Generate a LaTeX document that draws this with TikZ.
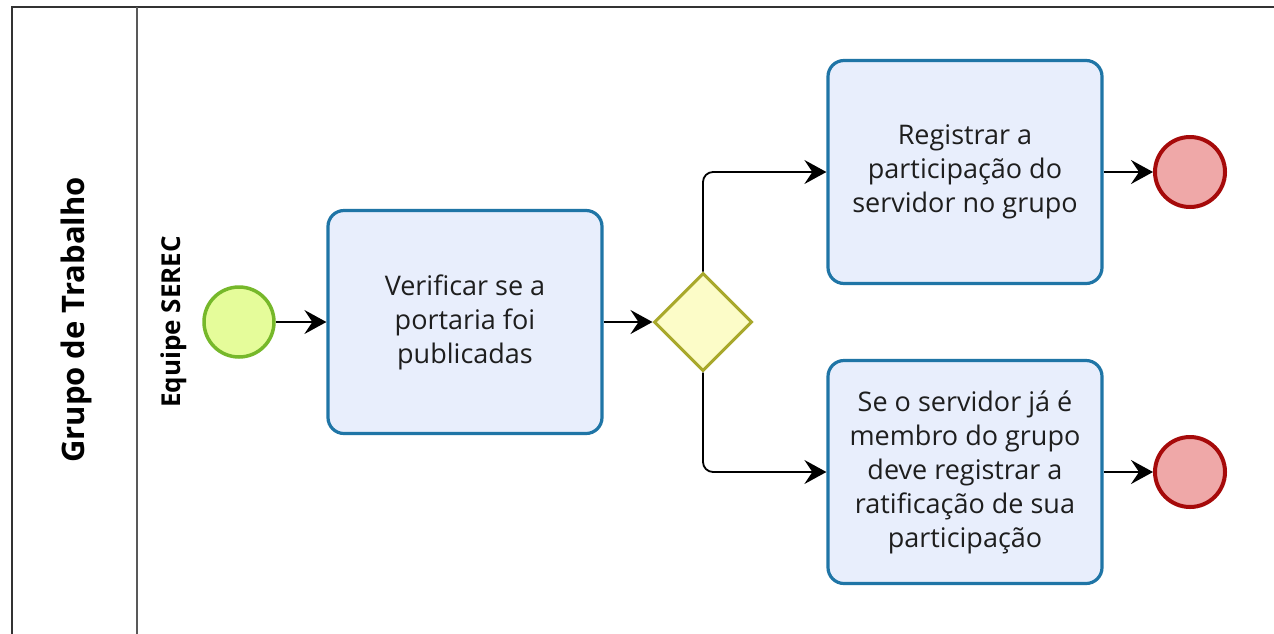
\documentclass[tikz,border=0pt]{standalone}
\usepackage{fontspec}
\setmainfont{Open Sans}
\usetikzlibrary{arrows.meta,shapes.geometric}
\definecolor{taskfill}{HTML}{E8EEFC}
\definecolor{taskdraw}{HTML}{1F75A6}
\definecolor{startfill}{HTML}{E5FC9A}
\definecolor{startdraw}{HTML}{76B82A}
\definecolor{gwfill}{HTML}{FCFCC8}
\definecolor{gwdraw}{HTML}{A8A82C}
\definecolor{endfill}{HTML}{EFA8A8}
\definecolor{enddraw}{HTML}{A60A0A}
\definecolor{txt}{HTML}{1E1E1E}
\tikzset{
  task/.style={draw=taskdraw, fill=taskfill, line width=3.2pt, rounded corners=16pt,
    minimum width=274pt, minimum height=223pt, align=center, text=txt,
    font=\fontsize{27}{34}\selectfont, inner sep=0pt},
  startev/.style={circle, draw=startdraw, fill=startfill, line width=3.5pt, minimum size=70pt, inner sep=0pt},
  endev/.style={circle, draw=enddraw, fill=endfill, line width=4pt, minimum size=70pt, inner sep=0pt},
  gateway/.style={diamond, draw=gwdraw, fill=gwfill, line width=3pt, minimum width=98pt, minimum height=98pt, inner sep=0pt, aspect=1},
  flow/.style={line width=1.8pt, black, rounded corners=10pt, -{Stealth[length=22pt,width=24pt,inset=8pt]}},
  pool/.style={line width=2pt, draw=black!80},
  lanelabel/.style={font=\bfseries, text=black, rotate=90}
}
\begin{document}
\begin{tikzpicture}[x=1pt,y=-1pt]
\useasboundingbox (0,0) rectangle (1274,633);
\fill[white] (0,0) rectangle (1274,633);
% pool
\draw[pool] (12,640) -- (12,7) -- (1280,7);
\draw[pool, draw=black!65] (137,7) -- (137,640);
\node[lanelabel, font=\fontsize{31}{36}\bfseries\selectfont] (pool) at (76,320) {Grupo de Trabalho};
\node[lanelabel, font=\fontsize{26}{30}\bfseries\selectfont] (lane) at (174,322) {Equipe SEREC};
% nodes
\node[startev] (start) at (239,322) {};
\node[task] (t1) at (465,322) {Verificar se a\\portaria foi\\publicadas};
\node[gateway] (gw) at (703,322) {};
\node[task] (t2) at (965,172) {Registrar a\\participação do\\servidor no grupo};
\node[task] (t3) at (965,472) {Se o servidor já é\\membro do grupo\\deve registrar a\\ratificação de sua\\participação};
\node[endev] (e1) at (1190,172) {};
\node[endev] (e2) at (1190,472) {};
% flows
\draw[flow] (start) -- (t1);
\draw[flow] (t1) -- (gw);
\draw[flow] (gw.north) |- (t2.west);
\draw[flow] (gw.south) |- (t3.west);
\draw[flow] (t2) -- (e1);
\draw[flow] (t3) -- (e2);
\end{tikzpicture}
\end{document}
